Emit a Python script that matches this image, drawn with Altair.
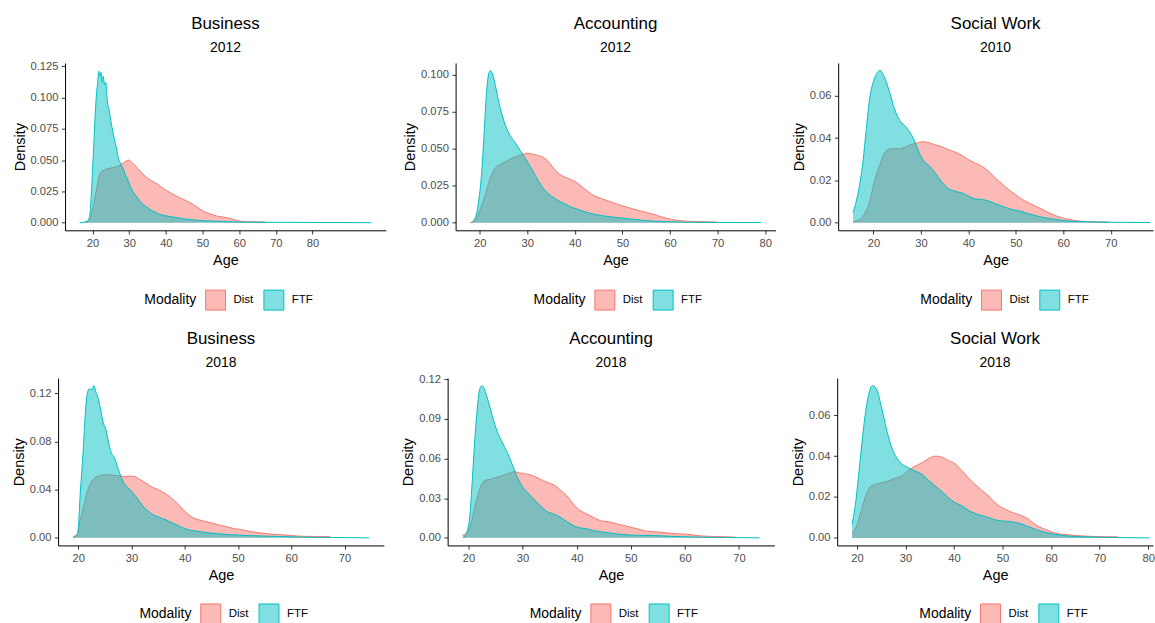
import altair as alt
import pandas as pd

FONT = "Liberation Sans"
MODALITIES = ["Dist", "FTF"]
LINE_COLORS = ["#F8766D", "#00BFC4"]
FILL_COLORS = ["rgba(248,118,109,0.5)", "rgba(0,191,196,0.5)"]

# ---- Business 2012 ----
BUS12_FTF_AGE = [16.5, 18.5, 19.2, 19.7, 20.3, 20.7, 21.0, 21.4, 21.7, 22.0, 22.3, 22.6, 22.9,
                 23.3, 23.6, 24.0, 24.5, 25.0, 25.5, 26.0, 26.5, 27.0, 27.5, 28.0, 28.5, 29.0,
                 29.5, 30, 31, 32, 33, 34, 35, 36, 37, 38, 40, 42, 45, 48, 53, 57, 62, 70, 80, 96]
BUS12_FTF_DEN = [0.0, 0.001, 0.005, 0.025, 0.060, 0.085, 0.100, 0.112, 0.121, 0.117, 0.120, 0.112,
                 0.117, 0.110, 0.112, 0.098, 0.090, 0.081, 0.073, 0.066, 0.060, 0.052, 0.048, 0.045,
                 0.042, 0.038, 0.035, 0.031, 0.025, 0.021, 0.017, 0.014, 0.012, 0.010, 0.0085,
                 0.007, 0.0055, 0.0045, 0.003, 0.002, 0.0013, 0.0008, 0.0004, 0.0003, 0.0002, 0.0]
BUS12_DIST_AGE = [18.1, 18.8, 19.4, 19.9, 20.4, 20.8, 21.3, 21.7, 22.2, 23.1, 24.0, 25.8, 27.6,
                  29.0, 29.9, 30.8, 32.1, 34.0, 35.8, 37.6, 39.4, 41.2, 43.0, 44.8, 46.6, 48.5,
                  50.3, 52.1, 53.9, 56.6, 58.4, 60.2, 62.0, 67.0]
BUS12_DIST_DEN = [0.0, 0.001, 0.004, 0.010, 0.016, 0.022, 0.030, 0.036, 0.040, 0.042, 0.043, 0.044,
                  0.046, 0.049, 0.050, 0.048, 0.044, 0.038, 0.034, 0.031, 0.027, 0.024, 0.021,
                  0.0185, 0.016, 0.0125, 0.009, 0.007, 0.0053, 0.004, 0.0026, 0.0013, 0.0008, 0.0005]

# ---- Accounting 2012 ----
ACC12_FTF_AGE = [18.3, 19.1, 19.8, 20.5, 21.0, 21.4, 21.9, 22.3, 22.7, 23.3, 24.0, 24.7, 25.4,
                 26.4, 27.5, 28.5, 29.6, 31.0, 32.4, 33.7, 35.1, 36.5, 37.9, 39.3, 40.7, 42.1,
                 44.2, 46.3, 49.1, 51.9, 56.1, 60.3, 63.8, 70.0, 79.1]
ACC12_FTF_DEN = [0.0, 0.0034, 0.0145, 0.037, 0.064, 0.086, 0.1007, 0.103, 0.1007, 0.093, 0.082,
                 0.073, 0.066, 0.059, 0.054, 0.049, 0.0436, 0.036, 0.028, 0.022, 0.018, 0.015,
                 0.0128, 0.0105, 0.009, 0.0074, 0.0056, 0.0045, 0.0034, 0.0025, 0.0011, 0.0007,
                 0.0003, 0.0002, 0.0001]
ACC12_DIST_AGE = [18.0, 19.1, 20.1, 21.2, 22.2, 23.3, 24.7, 26.1, 27.5, 28.9, 29.9, 31.0, 32.4,
                  33.7, 34.8, 35.8, 37.2, 38.6, 40.0, 41.4, 42.8, 44.2, 45.6, 47.7, 49.8, 51.9,
                  54.0, 56.2, 58.2, 60.3, 63.1, 66.5, 70.0]
ACC12_DIST_DEN = [0.0, 0.002, 0.009, 0.019, 0.030, 0.037, 0.040, 0.0425, 0.0447, 0.046, 0.047,
                  0.0465, 0.0454, 0.0436, 0.040, 0.0358, 0.032, 0.030, 0.028, 0.0246, 0.021, 0.018,
                  0.0163, 0.0139, 0.0116, 0.0096, 0.0078, 0.006, 0.004, 0.0022, 0.0011, 0.0007, 0.0004]

# ---- Social Work 2010 ----
SW10_FTF_AGE = [15.7, 16.7, 17.8, 18.5, 19.2, 20.2, 21.4, 22.3, 23.4, 24.4, 25.5, 26.5, 27.6,
                28.6, 29.7, 30.7, 31.7, 32.8, 33.8, 34.9, 35.9, 37.3, 38.7, 40.1, 41.5, 42.9,
                44.3, 45.7, 47.1, 48.5, 49.9, 51.3, 52.7, 54.1, 56.2, 58.3, 60.4, 63.2, 67.4, 78.3]
SW10_FTF_DEN = [0.0047, 0.0133, 0.029, 0.0445, 0.0586, 0.068, 0.0719, 0.0688, 0.0617, 0.054,
                0.0484, 0.046, 0.043, 0.039, 0.0328, 0.029, 0.027, 0.0242, 0.021, 0.018, 0.016,
                0.0148, 0.014, 0.0125, 0.0112, 0.011, 0.0102, 0.009, 0.0078, 0.0067, 0.0059,
                0.0052, 0.0042, 0.0034, 0.0023, 0.0016, 0.0009, 0.0006, 0.0003, 0.0001]
SW10_DIST_AGE = [15.7, 17.1, 18.1, 19.2, 20.2, 21.3, 22.3, 23.4, 24.4, 25.5, 26.5, 27.6, 29.0,
                 30.3, 31.7, 33.1, 34.5, 35.9, 37.3, 38.7, 40.1, 41.5, 42.9, 44.3, 45.7, 47.1,
                 48.5, 49.9, 51.3, 52.7, 54.1, 55.5, 56.9, 58.3, 59.7, 61.1, 63.2, 65.3, 69.5]
SW10_DIST_DEN = [0.0005, 0.0016, 0.004, 0.010, 0.0195, 0.027, 0.0328, 0.0348, 0.035, 0.035,
                 0.0355, 0.0367, 0.0375, 0.0383, 0.0378, 0.0367, 0.0358, 0.0344, 0.0333, 0.0317,
                 0.0297, 0.0281, 0.0266, 0.0242, 0.021, 0.0183, 0.0156, 0.0133, 0.011, 0.0094,
                 0.0078, 0.0063, 0.0047, 0.0034, 0.0023, 0.0016, 0.0008, 0.0005, 0.0003]

# ---- Business 2018 ----
BUS18_FTF_AGE = [19.1, 19.9, 20.4, 20.9, 21.3, 21.7, 22.1, 22.6, 22.9, 23.4, 23.8, 24.3, 24.8,
                 25.2, 25.7, 26.2, 26.8, 27.4, 28.1, 28.7, 29.3, 30.2, 31.2, 32.1, 33.0, 34.0,
                 35.2, 36.5, 37.7, 39.0, 40.2, 41.4, 42.7, 44.6, 46.4, 48.9, 52.0, 55.2, 58.3,
                 61.4, 67.6, 74.6]
BUS18_FTF_DEN = [0.0, 0.0033, 0.038, 0.070, 0.101, 0.120, 0.1236, 0.123, 0.1263, 0.120, 0.115,
                 0.104, 0.094, 0.090, 0.079, 0.0707, 0.0666, 0.0584, 0.050, 0.0446, 0.0418,
                 0.0377, 0.0322, 0.0267, 0.0226, 0.0193, 0.0171, 0.0149, 0.0124, 0.0096, 0.0074,
                 0.0061, 0.0052, 0.0041, 0.0033, 0.0025, 0.0019, 0.0014, 0.0011, 0.0006, 0.0003, 0.0]
BUS18_DIST_AGE = [19.0, 19.8, 20.2, 20.9, 21.5, 22.1, 23.1, 24.0, 24.9, 25.9, 26.8, 27.7, 28.7,
                  29.6, 30.5, 31.5, 32.7, 34.0, 35.2, 36.5, 37.7, 39.0, 40.2, 41.4, 42.7, 43.9,
                  45.2, 46.4, 47.7, 48.9, 50.8, 52.7, 54.5, 56.4, 58.3, 60.1, 61.4, 64.5, 67.3]
BUS18_DIST_DEN = [0.001, 0.003, 0.0116, 0.024, 0.035, 0.0432, 0.0495, 0.0515, 0.0523, 0.0523,
                  0.0517, 0.0515, 0.051, 0.0512, 0.051, 0.0487, 0.0454, 0.0418, 0.0396, 0.0363,
                  0.0322, 0.0267, 0.0212, 0.0171, 0.0149, 0.0135, 0.0121, 0.0107, 0.0094, 0.008,
                  0.0066, 0.005, 0.0039, 0.003, 0.0025, 0.0019, 0.0014, 0.0011, 0.001]

# ---- Accounting 2018 ----
ACC18_FTF_AGE = [19.0, 19.7, 20.3, 20.7, 21.2, 21.7, 22.1, 22.5, 22.9, 23.5, 24.1, 24.7, 25.3,
                 26.3, 27.2, 28.1, 29.0, 29.9, 30.9, 32.1, 33.3, 34.5, 35.8, 37.0, 38.2, 39.4,
                 40.7, 41.9, 43.1, 45.0, 47.4, 50.5, 53.6, 56.6, 59.7, 63.4, 65.8, 73.8]
ACC18_FTF_DEN = [0.0, 0.0043, 0.018, 0.043, 0.0757, 0.1007, 0.113, 0.1152, 0.113, 0.1057, 0.097,
                 0.0882, 0.0807, 0.0719, 0.0644, 0.0556, 0.0461, 0.0393, 0.0343, 0.0293, 0.0243,
                 0.020, 0.018, 0.0155, 0.0123, 0.0093, 0.0075, 0.0068, 0.0055, 0.0043, 0.003,
                 0.002, 0.0018, 0.0013, 0.0008, 0.0005, 0.0003, 0.0]
ACC18_DIST_AGE = [18.9, 19.5, 20.1, 20.7, 21.3, 22.0, 22.6, 23.2, 24.1, 25.0, 26.0, 26.9, 27.8,
                  28.4, 29.3, 30.2, 31.5, 32.7, 33.9, 35.2, 36.1, 37.0, 38.2, 39.4, 40.7, 41.9,
                  43.1, 44.4, 45.6, 46.8, 48.0, 49.3, 50.5, 51.7, 52.9, 54.8, 56.6, 58.5, 60.3,
                  62.1, 63.4, 65.2, 67.7, 69.4]
ACC18_DIST_DEN = [0.002, 0.003, 0.0068, 0.0143, 0.0256, 0.0356, 0.0418, 0.0436, 0.0443, 0.0456,
                  0.0468, 0.0481, 0.0493, 0.0501, 0.0493, 0.0486, 0.0476, 0.0456, 0.0431, 0.0411,
                  0.0393, 0.0361, 0.0318, 0.0256, 0.0205, 0.018, 0.0155, 0.013, 0.0123, 0.0113,
                  0.010, 0.0088, 0.0075, 0.0063, 0.005, 0.0045, 0.0038, 0.003, 0.0028, 0.0018,
                  0.0013, 0.001, 0.0008, 0.0005]

# ---- Social Work 2018 ----
SW18_FTF_AGE = [19.0, 19.7, 20.3, 21.0, 21.7, 22.4, 23.2, 24.1, 25.1, 26.2, 27.2, 28.2, 29.2,
                30.6, 32.0, 33.4, 34.7, 36.1, 37.5, 38.8, 40.2, 41.6, 42.9, 44.3, 45.7, 47.1,
                48.4, 49.8, 51.2, 52.5, 53.9, 55.3, 56.6, 58.0, 59.4, 60.8, 62.1, 64.2, 66.9,
                70.3, 80.3]
SW18_FTF_DEN = [0.0068, 0.0165, 0.0295, 0.0457, 0.0602, 0.070, 0.0745, 0.0724, 0.0635, 0.0521,
                0.044, 0.0392, 0.0363, 0.0343, 0.0327, 0.0311, 0.0283, 0.0254, 0.0227, 0.0198,
                0.0173, 0.0157, 0.0136, 0.012, 0.0109, 0.010, 0.0089, 0.0083, 0.0081, 0.0076,
                0.0068, 0.0055, 0.0044, 0.0032, 0.0024, 0.0018, 0.0013, 0.0008, 0.0005, 0.0003, 0.0]
SW18_DIST_AGE = [19.0, 19.8, 20.7, 21.7, 22.7, 23.8, 25.1, 26.5, 27.9, 29.2, 30.6, 32.0, 33.4,
                 34.7, 36.1, 37.5, 38.8, 40.2, 41.6, 42.9, 44.3, 45.7, 47.1, 48.4, 49.8, 51.2,
                 52.5, 53.9, 55.3, 56.6, 58.0, 59.4, 60.8, 62.1, 63.5, 65.5, 67.6, 70.3, 73.8]
SW18_DIST_DEN = [0.0023, 0.0052, 0.0117, 0.0198, 0.0249, 0.0262, 0.027, 0.0279, 0.0292, 0.0303,
                 0.033, 0.0351, 0.0368, 0.0387, 0.040, 0.0395, 0.0379, 0.0363, 0.033, 0.0295,
                 0.0262, 0.0233, 0.0206, 0.0173, 0.0149, 0.0133, 0.012, 0.0109, 0.0092, 0.0068,
                 0.0049, 0.0036, 0.0024, 0.0018, 0.0015, 0.0011, 0.0008, 0.0006, 0.0005]

X_TICKS_TO_80 = [20, 30, 40, 50, 60, 70, 80]
X_TICKS_TO_70 = [20, 30, 40, 50, 60, 70]

# Vega lifts a title above any tick label poking past the plot top, so panels whose
# top label sits close to the edge get a smaller title offset to stay level.
PANELS = {
    "bus12": dict(subject="Business", year="2012",
                  dist=(BUS12_DIST_AGE, BUS12_DIST_DEN), ftf=(BUS12_FTF_AGE, BUS12_FTF_DEN),
                  xdomain=[12.5, 100.0], ydomain=[-0.0061, 0.1276], width=322,
                  xticks=X_TICKS_TO_80, yticks=[0, 0.025, 0.05, 0.075, 0.1, 0.125], yfmt=".3f",
                  legend_x=79.6, legend_y=227.3, title_offset=4.67),
    "acc12": dict(subject="Accounting", year="2012",
                  dist=(ACC12_DIST_AGE, ACC12_DIST_DEN), ftf=(ACC12_FTF_AGE, ACC12_FTF_DEN),
                  xdomain=[14.95, 82.15], ydomain=[-0.00515, 0.10815], width=321,
                  xticks=X_TICKS_TO_80, yticks=[0, 0.025, 0.05, 0.075, 0.1], yfmt=".3f",
                  legend_x=78.3, legend_y=227.3, title_offset=7),
    "sw10": dict(subject="Social Work", year="2010",
                 dist=(SW10_DIST_AGE, SW10_DIST_DEN), ftf=(SW10_FTF_AGE, SW10_FTF_DEN),
                 xdomain=[12.57, 78.9], ydomain=[-0.0036, 0.0755], width=316,
                 xticks=X_TICKS_TO_70, yticks=[0, 0.02, 0.04, 0.06], yfmt=".2f",
                 legend_x=82.4, legend_y=227.3, title_offset=7),
    "bus18": dict(subject="Business", year="2018",
                  dist=(BUS18_DIST_AGE, BUS18_DIST_DEN), ftf=(BUS18_FTF_AGE, BUS18_FTF_DEN),
                  xdomain=[16.22, 77.38], ydomain=[-0.0063, 0.1326], width=327,
                  xticks=X_TICKS_TO_70, yticks=[0, 0.04, 0.08, 0.12], yfmt=".2f",
                  legend_x=81.7, legend_y=226.0, title_offset=7),
    "acc18": dict(subject="Accounting", year="2018",
                  dist=(ACC18_DIST_AGE, ACC18_DIST_DEN), ftf=(ACC18_FTF_AGE, ACC18_FTF_DEN),
                  xdomain=[16.155, 76.545], ydomain=[-0.00576, 0.121], width=328,
                  xticks=X_TICKS_TO_70, yticks=[0, 0.03, 0.06, 0.09, 0.12], yfmt=".2f",
                  legend_x=82.3, legend_y=226.0, title_offset=2.73),
    "sw18": dict(subject="Social Work", year="2018",
                 dist=(SW18_DIST_AGE, SW18_DIST_DEN), ftf=(SW18_FTF_AGE, SW18_FTF_DEN),
                 xdomain=[15.93, 81.0], ydomain=[-0.0037, 0.0782], width=317,
                 xticks=X_TICKS_TO_80, yticks=[0, 0.02, 0.04, 0.06], yfmt=".2f",
                 legend_x=82.4, legend_y=226.0, title_offset=7),
}

PANEL_HEIGHT = 168


def density_panel(p):
    frames = []
    for mod, (ages, dens) in zip(MODALITIES, [p["dist"], p["ftf"]]):
        frames.append(pd.DataFrame({"Age": ages, "Density": dens, "Modality": mod}))
    df = pd.concat(frames, ignore_index=True)

    x = alt.X("Age:Q", title="Age",
              scale=alt.Scale(domain=p["xdomain"], nice=False, zero=False),
              axis=alt.Axis(values=p["xticks"]))
    y = alt.Y("Density:Q", title="Density", stack=False,
              scale=alt.Scale(domain=p["ydomain"], nice=False, zero=False),
              axis=alt.Axis(values=p["yticks"], format=p["yfmt"]))
    legend = alt.Legend(title="Modality", orient="none", legendX=p["legend_x"],
                        legendY=p["legend_y"], direction="horizontal", titleOrient="left",
                        titleAnchor="middle", symbolType="square", symbolSize=400)
    fill = alt.Fill("Modality:N", scale=alt.Scale(domain=MODALITIES, range=FILL_COLORS),
                    legend=legend)
    stroke = alt.Stroke("Modality:N", scale=alt.Scale(domain=MODALITIES, range=LINE_COLORS),
                        legend=legend)

    base = alt.Chart(df)
    layers = []
    for mod in MODALITIES:
        sub = base.transform_filter(alt.datum.Modality == mod)
        layers.append(sub.mark_area(interpolate="monotone").encode(x=x, y=y, fill=fill))
        layers.append(sub.mark_line(interpolate="monotone", strokeWidth=1)
                      .encode(x=x, y=y, stroke=stroke))
    return alt.layer(*layers).properties(
        width=p["width"], height=PANEL_HEIGHT,
        title=alt.TitleParams(text=p["subject"], subtitle=p["year"], offset=p["title_offset"]),
    )


def gap(width):
    # empty view used only to space the panels apart
    return alt.Chart(pd.DataFrame({"s": [0]})).mark_point(opacity=0).encode(
        x=alt.value(0), y=alt.value(0)).properties(width=width, height=1)


def row(*cells):
    return alt.hconcat(*cells, spacing=0, bounds="flush").resolve_scale(
        fill="independent", stroke="independent")


row1 = row(gap(6.1), density_panel(PANELS["bus12"]), gap(69.3),
           density_panel(PANELS["acc12"]), gap(62.6), density_panel(PANELS["sw10"]))
row2 = row(density_panel(PANELS["bus18"]), gap(63.1),
           density_panel(PANELS["acc18"]), gap(62.9), density_panel(PANELS["sw18"]))

# with flush bounds a nested row counts as zero height, so the spacing is the full
# distance between the tops of the two rows of plots
chart = alt.vconcat(row1, row2, spacing=316.3, bounds="flush").resolve_scale(
    fill="independent", stroke="independent"
).properties(
    padding={"left": 11.3, "top": 13, "right": 0, "bottom": 0}
).configure_view(strokeWidth=0).configure_axis(
    grid=False, labelFont=FONT, labelFontSize=11.2, labelColor="#4D4D4D",
    titleFont=FONT, titleFontSize=14.5, titleFontWeight="normal", titleColor="black",
    domainColor="black", domainWidth=1, tickColor="#333333", tickSize=3.7, tickWidth=1,
    labelFlush=False, labelOverlap=False, labelPadding=3.5,
).configure_axisX(titlePadding=5.2).configure_axisY(titlePadding=3).configure_legend(
    titleFont=FONT, titleFontSize=14, titleFontWeight="normal", titleColor="black",
    labelFont=FONT, labelFontSize=11.5, labelColor="black", symbolStrokeWidth=1,
    labelOffset=7.5, columnPadding=7.5, titlePadding=8,
).configure_title(
    font=FONT, fontSize=17, fontWeight="normal", color="black",
    subtitleFont=FONT, subtitleFontSize=14, subtitleColor="black",
    anchor="middle", subtitlePadding=7.7,
)

chart.save("out.html", embed_options={"renderer": "svg", "actions": False})
